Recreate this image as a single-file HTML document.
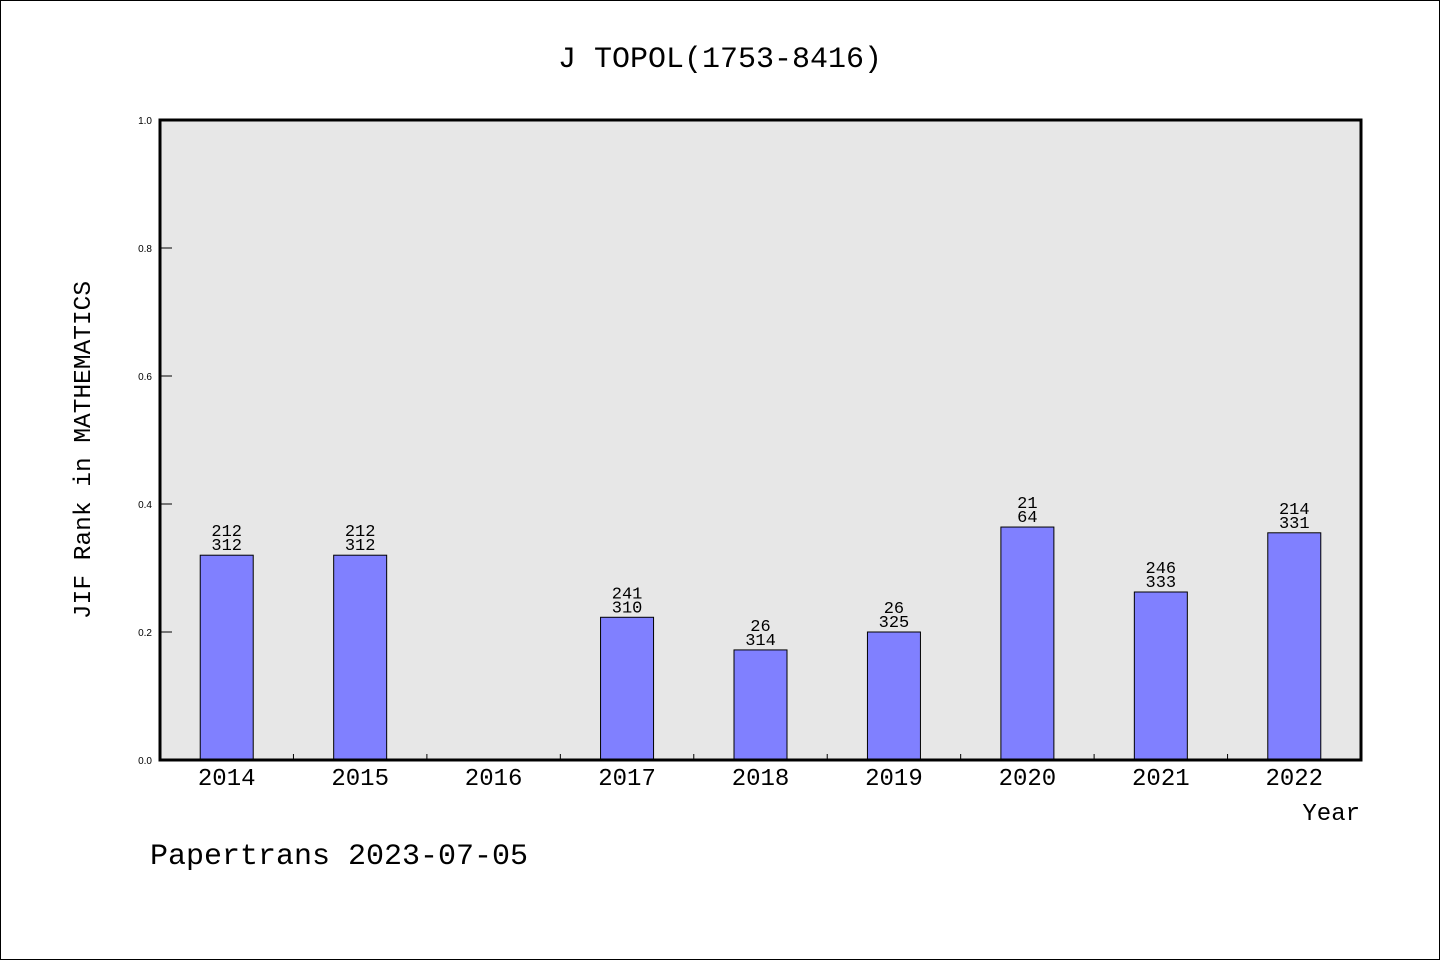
<!DOCTYPE html>
<html><head><meta charset="utf-8"><style>
html,body{margin:0;padding:0;background:#fff}
svg{display:block}
.t{font-family:"Liberation Mono","DejaVu Sans Mono",monospace}
.s{font-family:"Liberation Mono","DejaVu Sans Mono",monospace}
.y{font-family:"Liberation Sans","DejaVu Sans",sans-serif}
</style></head><body>
<svg id="c" width="1440" height="960" xmlns="http://www.w3.org/2000/svg">
<rect x="0.5" y="0.5" width="1439" height="959" fill="#fff" stroke="#000"/>
<text class="t" x="720" y="67" font-size="30" text-anchor="middle">J TOPOL(1753-8416)</text>
<rect x="160" y="120" width="1201" height="640" fill="#e7e7e7"/>
<g id="bars"></g>
<g id="axes"></g>
<rect x="160" y="120" width="1201" height="640" fill="none" stroke="#000" stroke-width="3"/>
<text class="t" transform="translate(90,450) rotate(-90)" font-size="24.5" text-anchor="middle">JIF Rank in MATHEMATICS</text>
<text class="s" x="1360" y="820" font-size="24" text-anchor="end">Year</text>
<text class="t" x="150" y="864" font-size="30">Papertrans 2023-07-05</text>
</svg>
<script>
const years=["2014","2015","2016","2017","2018","2019","2020","2021","2022"];
const values=[0.32,0.32,0,0.223,0.172,0.2,0.364,0.2625,0.355];
const ranks=["212","212","","241","26","26","21","246","214"];
const totals=["312","312","","310","314","325","64","333","331"];
const yTicks=[0,0.2,0.4,0.6,0.8,1.0];
const NS="http://www.w3.org/2000/svg";
const X0=160,W=1201,Y0=760,H=640;
const bw=W/years.length;
function xs(i){return X0+bw*(i+0.5);}
function ys(v){return Y0-v*H;}
function mk(t,a,p){const e=document.createElementNS(NS,t);for(const k in a)e.setAttribute(k,a[k]);p.appendChild(e);return e;}
const bars=document.getElementById('bars'),axes=document.getElementById('axes');
years.forEach((y,i)=>{
  if(values[i]>0){
    const r=mk('rect',{x:xs(i)-26.5,y:ys(values[i]),width:53,height:Y0-ys(values[i]),fill:'#8080ff',stroke:'#000','stroke-width':1},bars);
    
    
    const t1=mk('text',{x:xs(i),y:ys(values[i])-19,'font-size':17,'text-anchor':'middle',class:'s'},bars);
    t1.textContent=ranks[i];
    
    
    const t2=mk('text',{x:xs(i),y:ys(values[i])-5,'font-size':17,'text-anchor':'middle',class:'s'},bars);
    t2.textContent=totals[i];
    
    
  }
  const tl=mk('text',{x:xs(i),y:785,'font-size':24,'text-anchor':'middle',class:'s'},axes);
  tl.textContent=y;
  
  
  if(i>0){
    const tk=mk('line',{x1:X0+bw*i,x2:X0+bw*i,y1:Y0,y2:Y0-6,stroke:'#000'},axes);
    
    
  }
});
yTicks.forEach(v=>{
  const tk=mk('line',{x1:X0,x2:X0+12,y1:ys(v),y2:ys(v),stroke:'#000'},axes);
  
  
  const tl=mk('text',{x:152,y:ys(v)+4,'font-size':10,'text-anchor':'end',class:'y'},axes);
  tl.textContent=v.toFixed(1);
  
  
});
</script>
</body></html>
